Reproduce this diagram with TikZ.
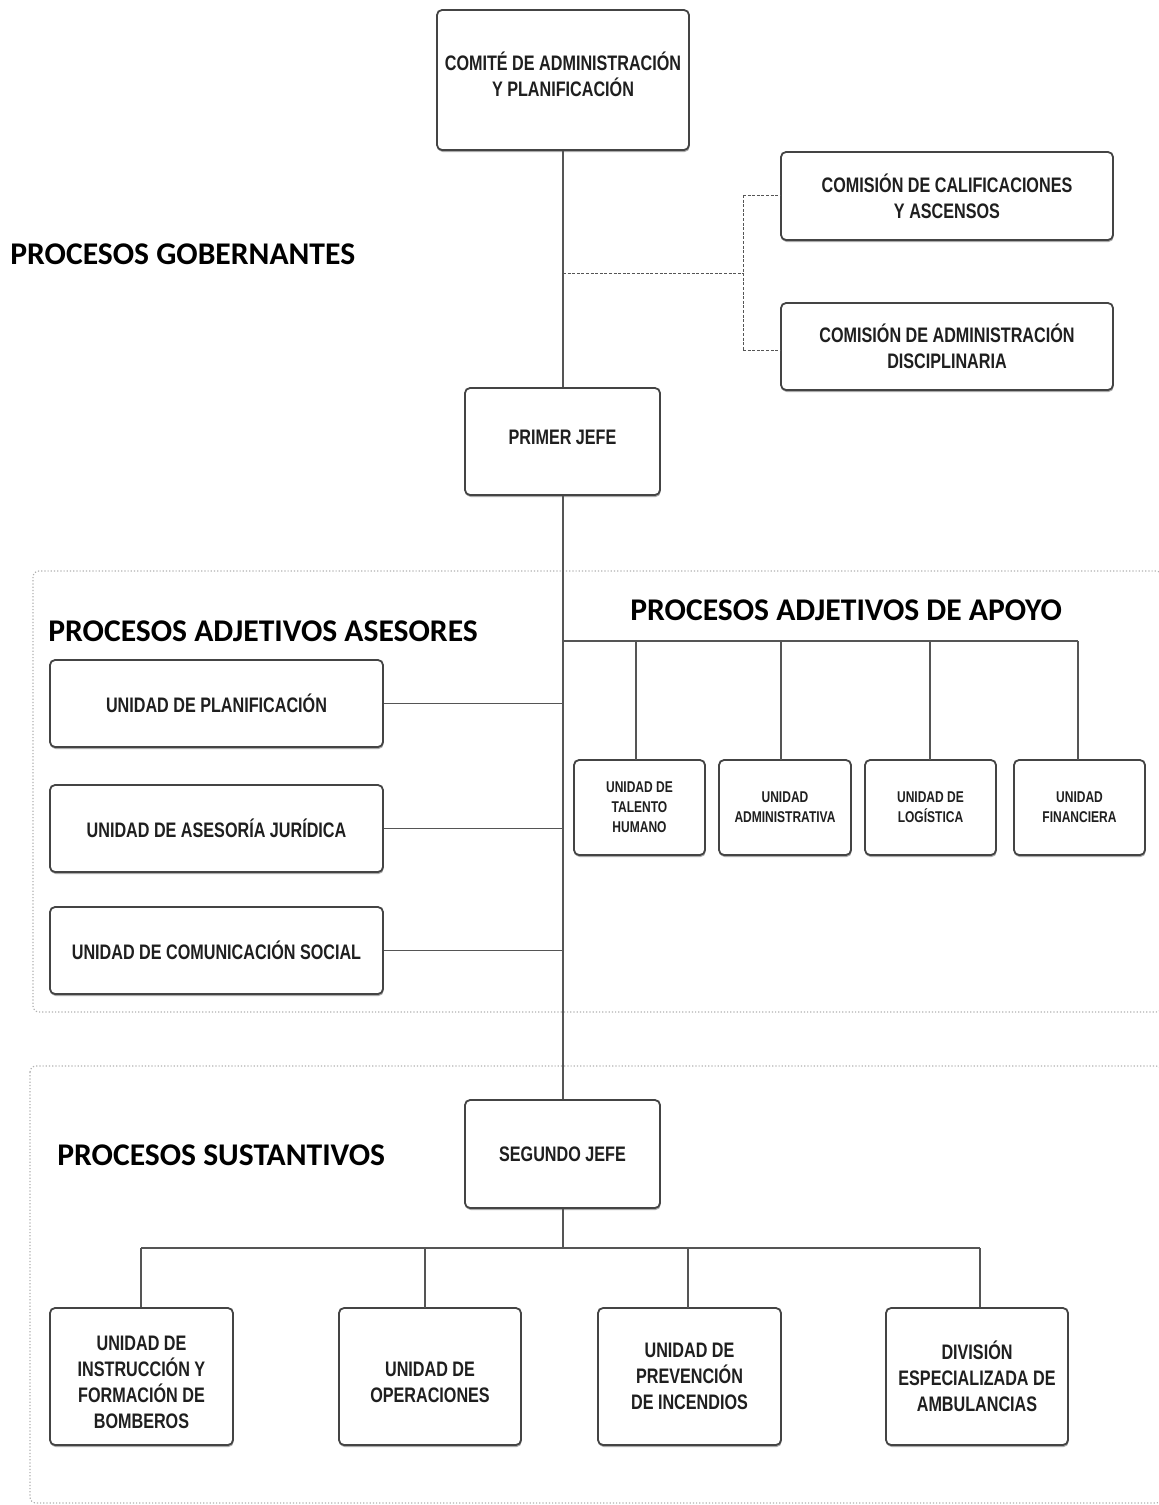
\documentclass[tikz,border=0pt]{standalone}
\usepackage{fontspec}
\setmainfont{Carlito}
\newfontfamily\boxfont[FakeStretch=0.77]{Liberation Sans}
\usetikzlibrary{shadows}
\definecolor{lineg}{HTML}{555555}
\definecolor{boxg}{HTML}{444444}
\definecolor{panelg}{HTML}{B0B0B0}
\tikzset{
  orgbox/.style={draw=boxg, line width=0.9pt, rounded corners=2.5pt, fill=white,
    align=center, inner sep=1pt, font=\boxfont\bfseries\fontsize{10.5}{13}\selectfont, text=black!88,
    drop shadow={shadow xshift=0.3pt, shadow yshift=-1pt, opacity=0.55, fill=black!60}},
  boxtext/.style={font=\boxfont\bfseries\fontsize{10.5}{13}\selectfont, text=black!88, align=center, inner sep=1pt},
  smallbox/.style={orgbox, font=\boxfont\bfseries\fontsize{7.8}{10}\selectfont},
  conn/.style={draw=lineg, line width=0.8pt},
  dconn/.style={draw=lineg, line width=0.5pt, dash pattern=on 1.5pt off 0.8pt},
  panel/.style={draw=panelg, line width=0.6pt, densely dotted, rounded corners=3pt},
  heading/.style={font=\bfseries\fontsize{15.8}{18}\selectfont, text=black, anchor=west, inner sep=0pt},
}
\begin{document}
\begin{tikzpicture}[x=0.5pt, y=-0.5pt]
\useasboundingbox (0,0) rectangle (1159,1505);
% panels
\draw[panel] (33,571) rectangle (1162,1012);
\draw[panel] (30,1066) rectangle (1162,1503);
% headings
\node[heading] (hgob) at (10,254) {PROCESOS GOBERNANTES};
\node[heading] (hase) at (48,631) {PROCESOS ADJETIVOS ASESORES};
\node[heading] (hapo) at (630,610) {PROCESOS ADJETIVOS DE APOYO};
\node[heading] (hsus) at (57,1155) {PROCESOS SUSTANTIVOS};
% boxes
\node[orgbox, minimum width=126pt, minimum height=70pt] (comite) at (563,80) {};
\node[boxtext] (comitet) at (563,74) {COMITÉ DE ADMINISTRACIÓN\\Y PLANIFICACIÓN};
\node[orgbox, minimum width=166pt, minimum height=44pt] (cal) at (947,196)
  {COMISIÓN DE CALIFICACIONES\\Y ASCENSOS};
\node[orgbox, minimum width=166pt, minimum height=43.5pt] (dis) at (947,346.5)
  {COMISIÓN DE ADMINISTRACIÓN\\DISCIPLINARIA};
\node[orgbox, minimum width=97.5pt, minimum height=53.5pt] (jefe1) at (562.5,441.5) {};
\node[boxtext] (jefe1t) at (562.5,437) {PRIMER JEFE};
\node[orgbox, minimum width=166.5pt, minimum height=43.5pt] (planif) at (216.5,703.5) {UNIDAD DE PLANIFICACIÓN};
\node[orgbox, minimum width=166.5pt, minimum height=43.5pt] (jur) at (216.5,828.5) {UNIDAD DE ASESORÍA JURÍDICA};
\node[orgbox, minimum width=166.5pt, minimum height=43.5pt] (com) at (216.5,950.5) {UNIDAD DE COMUNICACIÓN SOCIAL};
\node[smallbox, minimum width=65.5pt, minimum height=47.5pt] (th) at (639.5,807.5) {UNIDAD DE\\TALENTO\\HUMANO};
\node[smallbox, minimum width=66pt, minimum height=47.5pt] (adm) at (785,807.5) {UNIDAD\\ADMINISTRATIVA};
\node[smallbox, minimum width=65.5pt, minimum height=47.5pt] (log) at (930.5,807.5) {UNIDAD DE\\LOGÍSTICA};
\node[smallbox, minimum width=65.5pt, minimum height=47.5pt] (fin) at (1079.5,807.5) {UNIDAD\\FINANCIERA};
\node[orgbox, minimum width=97.5pt, minimum height=54pt] (jefe2) at (562.5,1154) {SEGUNDO JEFE};
\node[orgbox, minimum width=91.5pt, minimum height=68.5pt] (b1) at (141.5,1376.5) {};
\node[boxtext] (b1t) at (141.5,1382) {UNIDAD DE\\INSTRUCCIÓN Y\\FORMACIÓN DE\\BOMBEROS};
\node[orgbox, minimum width=91pt, minimum height=68.5pt] (b2) at (430,1376.5) {};
\node[boxtext] (b2t) at (430,1382) {UNIDAD DE\\OPERACIONES};
\node[orgbox, minimum width=91.5pt, minimum height=68.5pt] (b3) at (689.5,1376.5) {UNIDAD DE\\PREVENCIÓN\\DE INCENDIOS};
\node[orgbox, minimum width=91pt, minimum height=68.5pt] (b4) at (977,1376.5) {DIVISIÓN\\ESPECIALIZADA DE\\AMBULANCIAS};
% coordinates
\coordinate (dj) at (563,273);
\coordinate (dv) at (743,273);
\coordinate (dv1) at (743,195);
\coordinate (dv2) at (743,350);
\coordinate (ab) at (563,641);
\coordinate (abe) at (1078,641);
\coordinate (sb) at (563,1248);
\coordinate (sbl) at (141,1248);
\coordinate (sbr) at (980,1248);
% spine
\draw[conn] (comite.south -| dj) -- (jefe1.north -| dj);
\draw[conn] (jefe1.south -| dj) -- (jefe2.north -| dj);
% dashed
\draw[dconn] (dj) -- (dv);
\draw[dconn] (dv1) -- (dv2);
\draw[dconn] (dv1) -- (cal.west |- dv1);
\draw[dconn] (dv2) -- (dis.west |- dv2);
% apoyo
\draw[conn] (ab) -- (abe);
\draw[conn] (636,641) -- (636,760);
\draw[conn] (781,641) -- (781,760);
\draw[conn] (930,641) -- (930,760);
\draw[conn] (abe) -- (1078,760);
% asesores
\draw[conn] (planif.east) -- (planif.east -| dj);
\draw[conn] (jur.east) -- (jur.east -| dj);
\draw[conn] (com.east) -- (com.east -| dj);
% sustantivos
\draw[conn] (jefe2.south -| sb) -- (sb);
\draw[conn] (sbl) -- (sbr);
\draw[conn] (sbl) -- (b1.north -| sbl);
\draw[conn] (425,1248) -- (425,1308);
\draw[conn] (688,1248) -- (688,1308);
\draw[conn] (sbr) -- (b4.north -| sbr);
\end{tikzpicture}
\end{document}
